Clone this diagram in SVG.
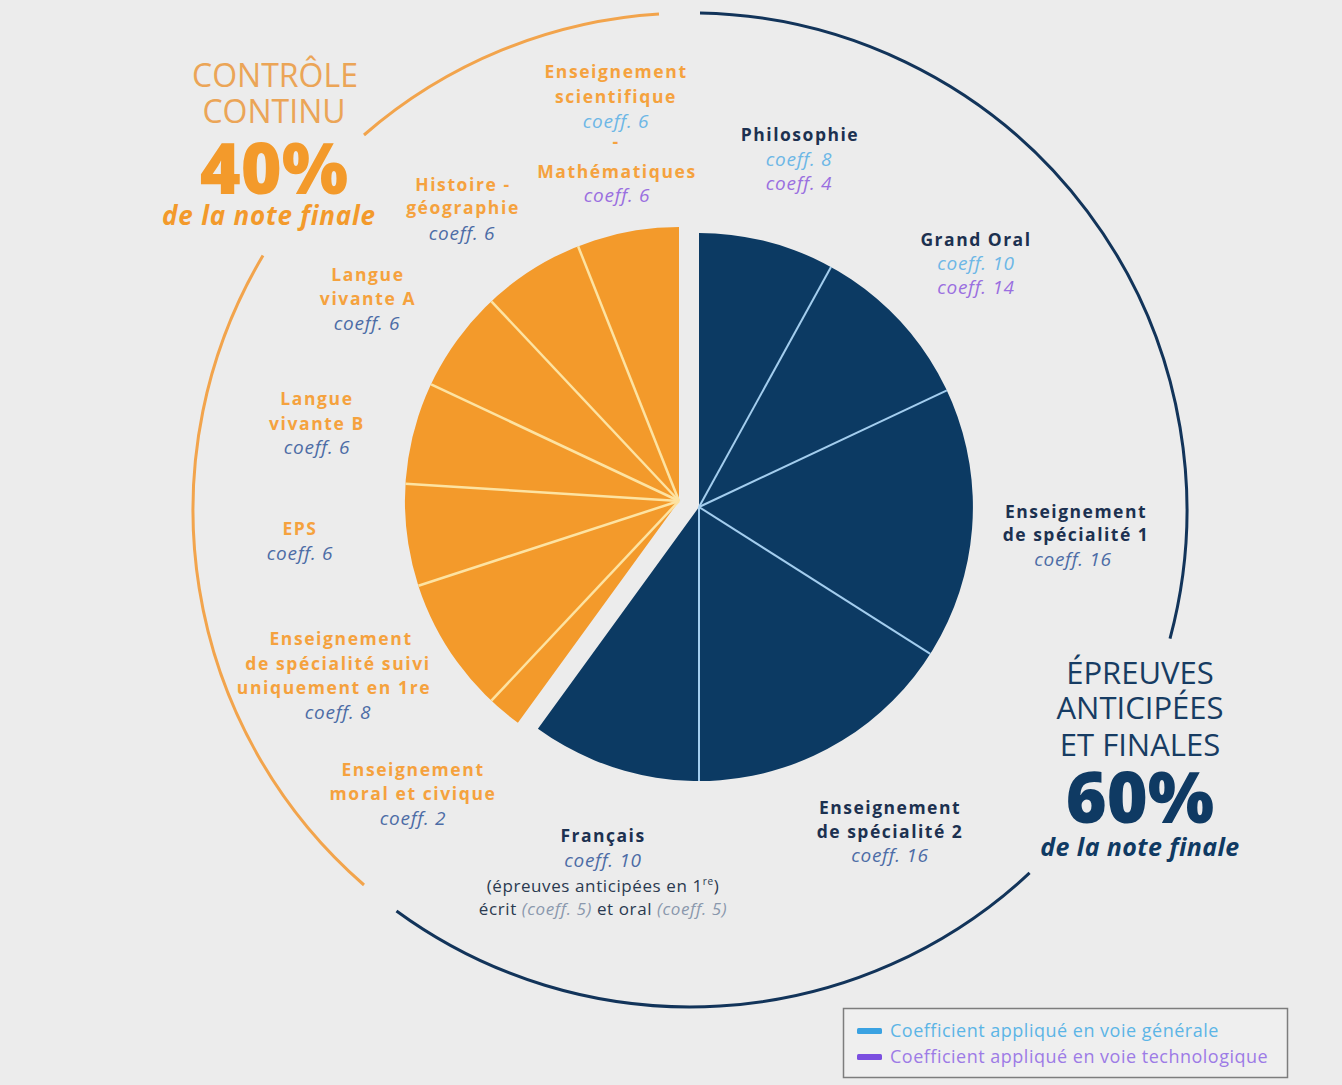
<svg xmlns="http://www.w3.org/2000/svg" width="1342" height="1085" viewBox="0 0 1342 1085">
<style>
text{font-family:'Open Sans','Liberation Sans',sans-serif;text-anchor:middle}
.lo{fill:#f5a23e;font-weight:700;font-size:17.5px;letter-spacing:1.6px}
.ld{fill:#1c3150;font-weight:700;font-size:17.5px;letter-spacing:1.5px}
.c{font-style:italic;font-size:19px;letter-spacing:0.7px}
.cm{fill:#4d6ca6}
.cl{fill:#6db7e6}
.cp{fill:#9a6fe0}
.sub{fill:#2a3a50;font-size:17px;letter-spacing:0.6px}
.subi{fill:#8a98ad;font-style:italic}
.tio{fill:#eba557;font-size:32px}
.tib{fill:#173c63;font-size:31px}
.big{font-size:70px;font-weight:800}
.fin{font-weight:700;font-style:italic}
.sepb{stroke:#a3cdee;stroke-width:2}
.sepo{stroke:#fde3a2;stroke-width:2.5}
.arc{fill:none;stroke-width:3}
.leg{font-size:18px;letter-spacing:0.5px;text-anchor:start}
</style>
<rect x="0" y="0" width="1342" height="1085" fill="#ececec"/>

<g id="pie">
  <path d="M699,507 L699,233 A274,274 0 1 1 537.9,728.7 Z" fill="#0c3a63"/>
  <path d="M679,501 L517.9,722.7 A274,274 0 0 1 679,227 Z" fill="#f39a2b"/>
  <g id="separators">
    <line class="sepb" x1="699" y1="507" x2="831" y2="266.9"/>
    <line class="sepb" x1="699" y1="507" x2="946.9" y2="390.3"/>
    <line class="sepb" x1="699" y1="507" x2="930.3" y2="653.8"/>
    <line class="sepb" x1="699" y1="507" x2="699" y2="781"/>
    <line class="sepo" x1="679" y1="501" x2="491.4" y2="700.7"/>
    <line class="sepo" x1="679" y1="501" x2="418.4" y2="585.7"/>
    <line class="sepo" x1="679" y1="501" x2="405.5" y2="483.8"/>
    <line class="sepo" x1="679" y1="501" x2="431.1" y2="384.3"/>
    <line class="sepo" x1="679" y1="501" x2="491.4" y2="301.3"/>
    <line class="sepo" x1="679" y1="501" x2="578.1" y2="246.2"/>
  </g>
</g>

<g id="arcs">
  <path class="arc" stroke="#f2a44c" d="M659,14 A497,497 0 0 0 364,135"/>
  <path class="arc" stroke="#f2a44c" d="M263,255.5 A497,497 0 0 0 364,885"/>
  <path class="arc" stroke="#12345a" d="M700,13 A497,497 0 0 1 1170,638.6"/>
  <path class="arc" stroke="#12345a" d="M1029.6,872.9 A497,497 0 0 1 396.5,911"/>
</g>

<g id="title-controle">
  <text class="tio" x="275" y="87">CONTRÔLE</text>
  <text class="tio" x="274" y="123">CONTINU</text>
  <text class="big" x="274" y="194" fill="#f39a2b">40%</text>
  <text class="fin" x="269" y="225" fill="#f39a2b" font-size="26" letter-spacing="0.8">de la note finale</text>
</g>

<g id="title-epreuves">
  <text class="tib" x="1140" y="684">ÉPREUVES</text>
  <text class="tib" x="1140" y="719">ANTICIPÉES</text>
  <text class="tib" x="1140" y="756">ET FINALES</text>
  <text class="big" x="1140" y="823" fill="#0f3a63">60%</text>
  <text class="fin" x="1140" y="856" fill="#0f3a63" font-size="25" letter-spacing="0.4">de la note finale</text>
</g>

<g id="ens-sci-maths">
  <text class="lo" x="616" y="78">Enseignement</text>
  <text class="lo" x="616" y="103">scientifique</text>
  <text class="c cl" x="616" y="128">coeff. 6</text>
  <text class="lo" x="616" y="148">-</text>
  <text class="lo" x="617" y="178">Mathématiques</text>
  <text class="c cp" x="617" y="202">coeff. 6</text>
</g>

<g id="histoire-geo">
  <text class="lo" x="463" y="191">Histoire -</text>
  <text class="lo" x="463" y="214">géographie</text>
  <text class="c cm" x="462" y="240">coeff. 6</text>
</g>

<g id="lva">
  <text class="lo" x="368" y="281">Langue</text>
  <text class="lo" x="368" y="305">vivante A</text>
  <text class="c cm" x="367" y="330">coeff. 6</text>
</g>

<g id="lvb">
  <text class="lo" x="317" y="405">Langue</text>
  <text class="lo" x="317" y="430">vivante B</text>
  <text class="c cm" x="317" y="454">coeff. 6</text>
</g>

<g id="eps">
  <text class="lo" x="300" y="535">EPS</text>
  <text class="c cm" x="300" y="560">coeff. 6</text>
</g>

<g id="spe-1re">
  <text class="lo" x="341" y="645">Enseignement</text>
  <text class="lo" x="338" y="670">de spécialité suivi</text>
  <text class="lo" x="334" y="694">uniquement en 1re</text>
  <text class="c cm" x="338" y="719">coeff. 8</text>
</g>

<g id="emc">
  <text class="lo" x="413" y="776">Enseignement</text>
  <text class="lo" x="413" y="800">moral et civique</text>
  <text class="c cm" x="413" y="825">coeff. 2</text>
</g>

<g id="philosophie">
  <text class="ld" x="800" y="141">Philosophie</text>
  <text class="c cl" x="799" y="166">coeff. 8</text>
  <text class="c cp" x="799" y="190">coeff. 4</text>
</g>

<g id="grand-oral">
  <text class="ld" x="976" y="246">Grand Oral</text>
  <text class="c cl" x="976" y="270">coeff. 10</text>
  <text class="c cp" x="976" y="294">coeff. 14</text>
</g>

<g id="spe-1">
  <text class="ld" x="1076" y="518">Enseignement</text>
  <text class="ld" x="1076" y="541">de spécialité 1</text>
  <text class="c cm" x="1073" y="566">coeff. 16</text>
</g>

<g id="spe-2">
  <text class="ld" x="890" y="814">Enseignement</text>
  <text class="ld" x="890" y="838">de spécialité 2</text>
  <text class="c cm" x="890" y="862">coeff. 16</text>
</g>

<g id="francais">
  <text class="ld" x="603" y="842">Français</text>
  <text class="c cm" x="603" y="867">coeff. 10</text>
  <text class="sub" x="603" y="892">(épreuves anticipées en 1<tspan font-size="10" dy="-7">re</tspan><tspan dy="7">)</tspan></text>
  <text class="sub" x="603" y="915">écrit <tspan class="subi">(coeff. 5)</tspan> et oral <tspan class="subi">(coeff. 5)</tspan></text>
</g>

<g id="legend">
  <rect x="843.5" y="1008.5" width="444" height="69" fill="#efefef" stroke="#7d7d7d" stroke-width="1.5"/>
  <rect x="857" y="1028" width="25" height="6" rx="1.5" fill="#3aa2e2"/>
  <text class="leg" x="890" y="1037" fill="#5cb5e6">Coefficient appliqué en voie générale</text>
  <rect x="857" y="1054" width="25" height="6" rx="1.5" fill="#7b4fe0"/>
  <text class="leg" x="890" y="1063" fill="#9d7be6">Coefficient appliqué en voie technologique</text>
</g>
</svg>
